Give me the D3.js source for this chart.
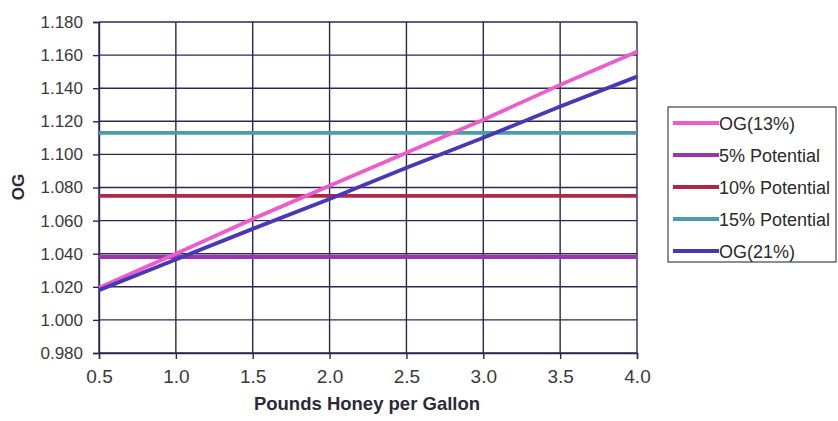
<!DOCTYPE html>
<html><head><meta charset="utf-8">
<script src="https://cdn.jsdelivr.net/npm/d3@7"></script>
<style>body{margin:0;background:#fff;font-family:Arial,"Liberation Sans",sans-serif}</style>
</head><body><svg id="c" width="838" height="421"></svg>
<script>
const xValues = [0.5,1.0,1.5,2.0,2.5,3.0,3.5,4.0];
const og13 = [1.0195,1.040,1.061,1.081,1.101,1.121,1.142,1.162];
const pot5 = [1.038,1.038,1.038,1.038,1.038,1.038,1.038,1.038];
const pot10 = [1.075,1.075,1.075,1.075,1.075,1.075,1.075,1.075];
const pot15 = [1.113,1.113,1.113,1.113,1.113,1.113,1.113,1.113];
const og21 = [1.018,1.0365,1.055,1.073,1.092,1.110,1.129,1.147];
const seriesNames = ["OG(13%)","5% Potential","10% Potential","15% Potential","OG(21%)"];
const seriesColors = ["#ee5ccc","#9a35b0","#b02848","#4a9ea8","#4838b8"];
const yTicks = [0.98,1.00,1.02,1.04,1.06,1.08,1.10,1.12,1.14,1.16,1.18];
const xTicks = [0.5,1.0,1.5,2.0,2.5,3.0,3.5,4.0];

const svg = d3.select("#c");
const L=99,R=637,T=22,B=353;
const x = d3.scaleLinear().domain([0.5,4.0]).range([L,R]);
const y = d3.scaleLinear().domain([0.98,1.18]).range([B,T]);
const grid="#2e2652";
const FF="Arial, 'Liberation Sans', sans-serif";

svg.append("g").selectAll("line").data(yTicks).join("line")
  .attr("x1",L).attr("x2",R).attr("y1",d=>y(d)).attr("y2",d=>y(d))
  .attr("stroke",grid).attr("stroke-width",1.4);
svg.append("g").selectAll("line").data(xTicks).join("line")
  .attr("y1",T).attr("y2",B).attr("x1",d=>x(d)).attr("x2",d=>x(d))
  .attr("stroke",grid).attr("stroke-width",1.4);

const yAxis = svg.append("g").attr("transform",`translate(${L},0)`)
  .call(d3.axisLeft(y).tickValues(yTicks).tickFormat(d3.format(".3f")).tickSize(6).tickPadding(10));
const xAxis = svg.append("g").attr("transform",`translate(0,${B})`)
  .call(d3.axisBottom(x).tickValues(xTicks).tickFormat(d3.format(".1f")).tickSize(6).tickPadding(11));
[yAxis,xAxis].forEach(a=>{
  a.select(".domain").attr("stroke",grid).attr("stroke-width",1.4);
  a.selectAll(".tick line").attr("stroke",grid).attr("stroke-width",1.4);
  a.selectAll("text").attr("fill","#3a3a3a").style("font-family",FF);
});
yAxis.selectAll("text").style("font-size","17px");
xAxis.selectAll("text").style("font-size","19px");

const all=[og13,pot5,pot10,pot15,og21];
const line=d3.line().x((d,i)=>x(xValues[i])).y(d=>y(d));
[1,2,3,0,4].forEach(k=>{
  svg.append("path").datum(all[k]).attr("d",line).attr("fill","none")
    .attr("stroke",seriesColors[k]).attr("stroke-width",3.8);
});

svg.append("text").attr("transform","translate(24,187) rotate(-90)").attr("text-anchor","middle")
  .style("font-weight","bold").style("font-size","17px").style("font-family",FF).attr("fill","#2a2a3a").text("OG");
svg.append("text").attr("x",367).attr("y",410).attr("text-anchor","middle")
  .style("font-weight","bold").style("font-size","18.5px").style("font-family",FF).attr("fill","#2a2a3a").text("Pounds Honey per Gallon");

const lg=svg.append("g");
lg.append("rect").attr("x",668).attr("y",107).attr("width",168).attr("height",155)
  .attr("fill","#fff").attr("stroke","#444").attr("stroke-width",1.2);
seriesNames.forEach((n,i)=>{
  const yy=123+i*32;
  lg.append("line").attr("x1",673).attr("x2",719).attr("y1",yy).attr("y2",yy)
    .attr("stroke",seriesColors[i]).attr("stroke-width",3.8);
  lg.append("text").attr("x",719).attr("y",yy+6.5).style("font-size","18px").style("font-family",FF).attr("fill","#2a2a2a").text(n);
});
</script></body></html>
